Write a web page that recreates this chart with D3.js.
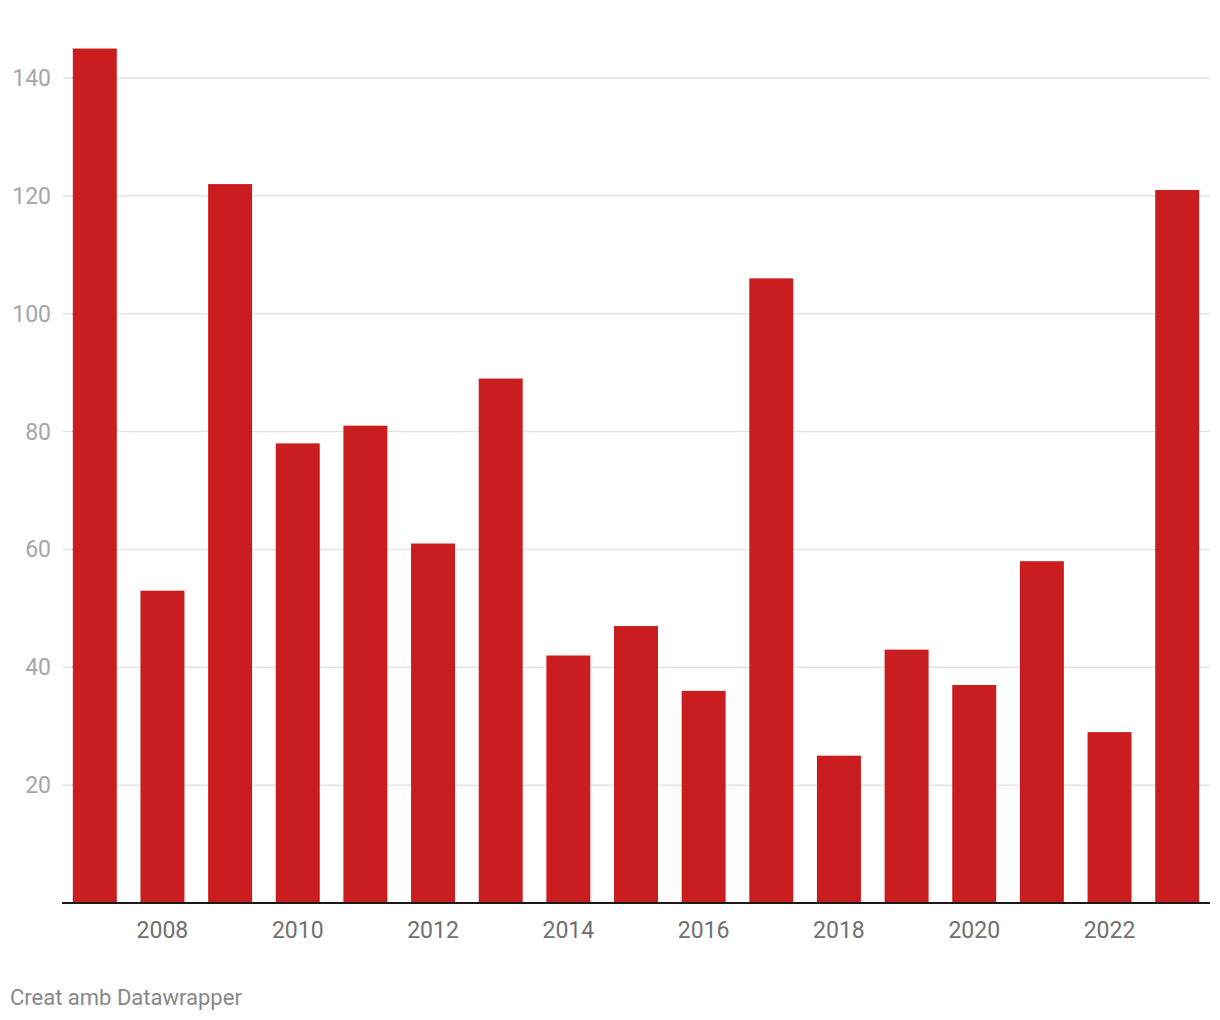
<!DOCTYPE html>
<html>
<head>
<meta charset="utf-8">
<script src="https://cdn.jsdelivr.net/npm/d3@7"></script>
<style>
  body { margin: 0; background: #fff; }
  #vis { width: 1220px; height: 1020px; }
</style>
</head>
<body>
<div id="vis"></div>
<script>
var years = [2007, 2008, 2009, 2010, 2011, 2012, 2013, 2014, 2015, 2016, 2017, 2018, 2019, 2020, 2021, 2022, 2023];
var values = [145, 53, 122, 78, 81, 61, 89, 42, 47, 36, 106, 25, 43, 37, 58, 29, 121];
var yTicks = [20, 40, 60, 80, 100, 120, 140];
var xTicks = [2008, 2010, 2012, 2014, 2016, 2018, 2020, 2022];
var credit = "Creat amb Datawrapper";

var font = "Roboto, 'Noto Sans', Arial, sans-serif";

var svg = d3.select("#vis")
    .append("svg")
    .attr("width", 1220)
    .attr("height", 1020);

var x = d3.scaleBand()
    .domain(years)
    .range([62, 1210])
    .paddingInner(0.35)
    .paddingOuter(0.16);

var y = d3.scaleLinear()
    .domain([0, 140])
    .range([903, 78]);

// gridlines
svg.append("g")
    .selectAll("line")
    .data(yTicks)
    .enter()
    .append("line")
    .attr("x1", 63)
    .attr("x2", 1210)
    .attr("y1", function (d) { return y(d); })
    .attr("y2", function (d) { return y(d); })
    .attr("stroke", "#e3e3e3")
    .attr("stroke-width", 1.5);

// y labels
svg.append("g")
    .selectAll("text")
    .data(yTicks)
    .enter()
    .append("text")
    .attr("x", 51)
    .attr("y", function (d) { return y(d); })
    .attr("dy", "0.35em")
    .attr("text-anchor", "end")
    .style("font-family", font)
    .style("font-size", "23px")
    .attr("fill", "#a6a6a6")
    .text(function (d) { return d; });

// bars
svg.append("g")
    .selectAll("rect")
    .data(values)
    .enter()
    .append("rect")
    .attr("x", function (d, i) { return x(years[i]); })
    .attr("y", function (d) { return y(d); })
    .attr("width", x.bandwidth())
    .attr("height", function (d) { return y(0) - y(d); })
    .attr("fill", "#c91d1f");

// baseline
svg.append("line")
    .attr("x1", 62)
    .attr("x2", 1210)
    .attr("y1", y(0))
    .attr("y2", y(0))
    .attr("stroke", "#1a1a1a")
    .attr("stroke-width", 2);

// x labels
svg.append("g")
    .selectAll("text")
    .data(xTicks)
    .enter()
    .append("text")
    .attr("x", function (d) { return x(d) + x.bandwidth() / 2; })
    .attr("y", 938)
    .attr("text-anchor", "middle")
    .style("font-family", font)
    .style("font-size", "23px")
    .attr("fill", "#707070")
    .text(function (d) { return d; });

svg.append("text")
    .attr("x", 10)
    .attr("y", 1005)
    .style("font-family", font)
    .style("font-size", "22px")
    .attr("fill", "#888")
    .text(credit);
</script>
</body>
</html>
